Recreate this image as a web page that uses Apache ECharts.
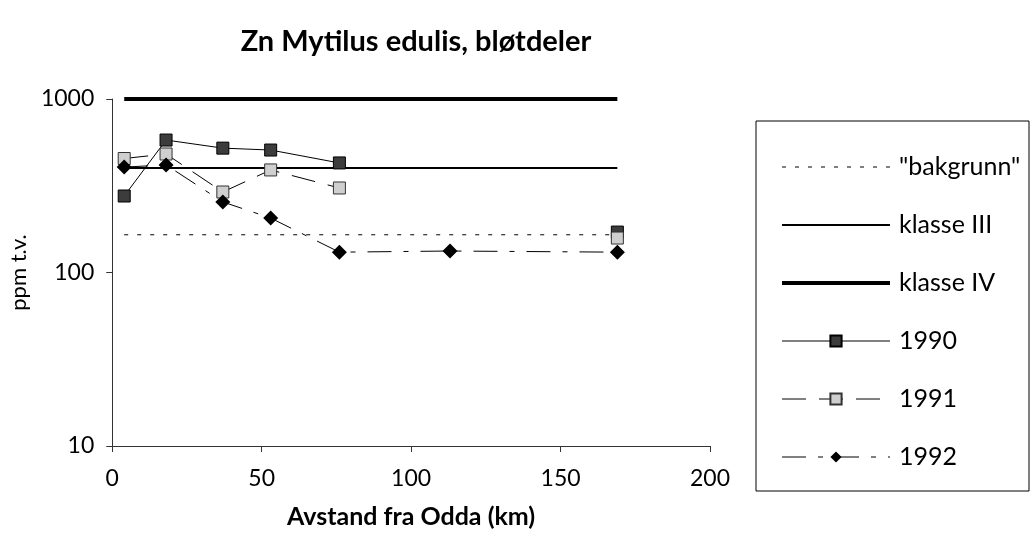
<!DOCTYPE html>
<html>
<head>
<meta charset="utf-8">
<script src="https://cdn.jsdelivr.net/npm/echarts@6/dist/echarts.min.js"></script>
<style>
html,body{margin:0;padding:0;background:#fff;}
#chart{width:1032px;height:541px;}
</style>
</head>
<body>
<div id="chart"></div>
<script>
// Data
const distances = [4, 18, 37, 53, 76, 113, 169];
const zn1990 = [276, 580, 521, 508, 428, null, 171];
const zn1991 = [454, 482, 291, 390, 307, null, 158];
const zn1992 = [405, 417, 255, 206, 131, 133, 131];
const refX = [4, 169];
const bakgrunn = [165, 165];
const klasseIII = [400, 400];
const klasseIV = [1000, 1000];
const xTicks = [0, 50, 100, 150, 200];
const yTicks = [10, 100, 1000];

const FONT = 'Lato';
function pairs(xs, ys) {
  return xs.map((x, i) => [x, ys[i] == null ? '-' : ys[i]]);
}
const NOFILL = 'rgba(0,0,0,0)';

const chart = echarts.init(document.getElementById('chart'));
chart.setOption({
  backgroundColor: '#fff',
  animation: false,
  title: {
    text: 'Zn Mytilus edulis, bløtdeler',
    left: 411, top: 22, textAlign: 'center',
    textStyle: { fontFamily: FONT, fontSize: 29, fontWeight: 'bold', color: '#000' }
  },
  grid: { left: 111, right: 322, top: 99, bottom: 95 },
  xAxis: {
    type: 'value', min: 0, max: 200, interval: 50,
    name: 'Avstand fra Odda (km)', nameLocation: 'middle', nameGap: 58,
    nameTextStyle: { fontFamily: FONT, fontSize: 25, fontWeight: 'bold', color: '#000' },
    axisLine: { show: true, lineStyle: { color: '#333', width: 1 } },
    axisTick: { show: true, length: 6, lineStyle: { color: '#333' } },
    axisLabel: { fontFamily: FONT, fontSize: 23, color: '#000', margin: 21,
      formatter: v => String(v) },
    splitLine: { show: false }
  },
  yAxis: {
    type: 'log', logBase: 10, min: 10, max: 1000,
    name: 'ppm t.v.', nameLocation: 'middle', nameGap: 72,
    nameTextStyle: { fontFamily: FONT, fontSize: 22, color: '#000' },
    axisLine: { show: true, lineStyle: { color: '#333', width: 1 } },
    axisTick: { show: true, length: 6, lineStyle: { color: '#333' } },
    axisLabel: { fontFamily: FONT, fontSize: 23, color: '#000', margin: 18,
      formatter: v => String(v) },
    splitLine: { show: false },
    minorTick: { show: false }
  },
  legend: {
    orient: 'vertical', left: 775, top: 149,
    itemWidth: 108, itemHeight: 14, itemGap: 32,
    lineStyle: { width: 'inherit' },
    textStyle: { fontFamily: FONT, fontSize: 25, color: '#000', lineHeight: 26, padding: [0, 0, 0, 4] },
    data: ['"bakgrunn"', 'klasse III', 'klasse IV', '1990', '1991', '1992']
  },
  graphic: [{
    type: 'rect', shape: { x: 756, y: 121, width: 273, height: 370 },
    style: { fill: 'none', stroke: '#000', lineWidth: 1 }, silent: true
  }],
  series: [
    {
      name: '"bakgrunn"', type: 'line', data: pairs(refX, bakgrunn),
      symbol: 'none', clip: false,
      itemStyle: { color: NOFILL },
      lineStyle: { color: '#000', width: 1, type: [4, 9] }
    },
    {
      name: 'klasse III', type: 'line', data: pairs(refX, klasseIII),
      symbol: 'none', clip: false,
      itemStyle: { color: NOFILL },
      lineStyle: { color: '#000', width: 2 }
    },
    {
      name: 'klasse IV', type: 'line', data: pairs(refX, klasseIV),
      symbol: 'none', clip: false,
      itemStyle: { color: NOFILL },
      lineStyle: { color: '#000', width: 4 }
    },
    {
      name: '1990', type: 'line', data: pairs(distances, zn1990),
      symbol: 'rect', symbolSize: 12, clip: false, connectNulls: false,
      lineStyle: { color: '#000', width: 1 },
      itemStyle: { color: '#3c3c3c', borderColor: '#000', borderWidth: 1 }
    },
    {
      name: '1991', type: 'line', data: pairs(distances, zn1991),
      symbol: 'rect', symbolSize: 12, clip: false, connectNulls: false,
      lineStyle: { color: '#000', width: 1, type: [24, 13] },
      itemStyle: { color: '#cfcfcf', borderColor: '#333', borderWidth: 1 }
    },
    {
      name: '1992', type: 'line', data: pairs(distances, zn1992),
      symbol: 'diamond', symbolSize: 15, clip: false, connectNulls: false,
      lineStyle: { color: '#000', width: 1, type: [24, 12, 5, 12] },
      itemStyle: { color: '#000', borderColor: '#000', borderWidth: 0 }
    }
  ]
});
</script>
</body>
</html>
